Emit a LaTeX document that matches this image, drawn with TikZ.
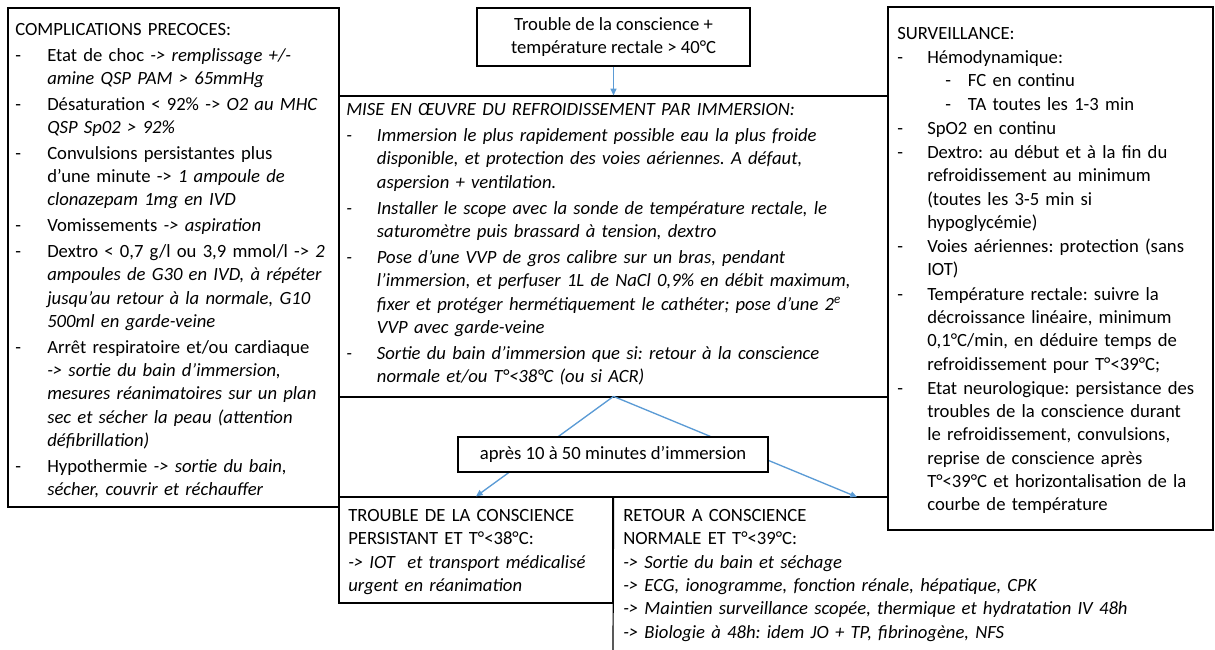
\documentclass[tikz,border=0pt]{standalone}
\usepackage{fontspec}
\setmainfont{Carlito}
\usepackage{tikz}
\usetikzlibrary{arrows.meta}

\definecolor{flowblue}{RGB}{91,155,213}

\newlength{\itmgap}
\newcommand{\itm}[2][24pt]{\par\vspace{\itmgap}\hangindent=#1\hangafter=1\noindent\makebox[#1][l]{-}#2}
\newcommand{\subitm}[1]{\par\noindent\hspace{36pt}\makebox[17pt][l]{-}#1}

\tikzset{
  box/.style={draw=black, line width=0.9pt, inner sep=0pt},
  txt/.style={anchor=north west, inner sep=0pt, align=left, font=\fontsize{14}{17.5}\selectfont\frenchspacing},
  flow/.style={draw=flowblue, line width=1pt},
  tip/.style={-{Triangle[length=5pt,width=4.5pt]}}
}

\begin{document}
\begin{tikzpicture}[x=0.75pt, y=-0.75pt]
    \useasboundingbox (0,0) rectangle (1215,650);

    \node[box, minimum width=248.25pt, minimum height=374.25pt] (compl) at (173.5,257.5) {};
    \node[box, minimum width=204.75pt, minimum height=43.5pt, align=center, font=\fontsize{14}{17.5}\selectfont] (trig) at (613.5,37) {Trouble de la conscience +\\température rectale > 40°C};
    \node[box, minimum width=411.75pt, minimum height=225.75pt] (immer) at (613.5,246.5) {};
    \node[box, minimum width=411.75pt, minimum height=75pt] (delai) at (613.5,447) {};
    \node[box, minimum width=205.5pt, minimum height=79.5pt] (persist) at (476,550) {};
    \node[box, minimum width=243.75pt, minimum height=392.25pt] (surv) at (1050.5,268.5) {};
    \coordinate (retour) at (857,497);
    \draw[black, line width=0.9pt] (persist.north east) -- (613,650);

    \node[txt, text width=242pt] (compltxt) at (15,23) {\setlength{\itmgap}{1.8pt}COMPLICATIONS PRECOCES:
        \itm{Etat de choc \textit{-> remplissage +/-}\newline\textit{amine QSP PAM > 65mmHg}}
        \itm{Désaturation < 92\% -> \textit{O2 au MHC}\newline\textit{QSP Sp02 > 92\%}}
        \itm{Convulsions persistantes plus\newline d’une minute -> \textit{1 ampoule de}\newline\textit{clonazepam 1mg en IVD}}
        \itm{Vomissements \textit{-> aspiration}}
        \itm{Dextro < 0,7 g/l ou 3,9 mmol/l -> \textit{2}\newline\textit{ampoules de G30 en IVD, à répéter}\newline\textit{jusqu’au retour à la normale, G10}\newline\textit{500ml en garde-veine}}
        \itm{Arrêt respiratoire et/ou cardiaque\newline\textit{-> sortie du bain d’immersion,}\newline\textit{mesures réanimatoires sur un plan}\newline\textit{sec et sécher la peau (attention}\newline\textit{défibrillation)}}
        \itm{Hypothermie \textit{-> sortie du bain,}\newline\textit{sécher, couvrir et réchauffer}}\par};

    \node[txt, text width=400pt, font=\fontsize{14}{17.5}\selectfont\itshape\frenchspacing] (immertxt) at (346,103) {\setlength{\itmgap}{2pt}MISE EN ŒUVRE DU REFROIDISSEMENT PAR IMMERSION:
        \itm[23pt]{Immersion le plus rapidement possible eau la plus froide\newline disponible, et protection des voies aériennes. A défaut,\newline aspersion + ventilation.}
        \itm[23pt]{Installer le scope avec la sonde de température rectale, le\newline saturomètre puis brassard à tension, dextro}
        \itm[23pt]{Pose d’une VVP de gros calibre sur un bras, pendant\newline l’immersion, et perfuser 1L de NaCl 0,9\% en débit maximum,\newline fixer et protéger hermétiquement le cathéter; pose d’une 2\textsuperscript{e}\newline VVP avec garde-veine}
        \itm[23pt]{Sortie du bain d’immersion que si: retour à la conscience\newline normale et/ou T°<38°C (ou si ACR)}\par};

    \node[txt, text width=236pt] (survtxt) at (897,27) {\setlength{\itmgap}{0.6pt}SURVEILLANCE:
        \itm[22.5pt]{Hémodynamique:}
        \subitm{FC en continu}
        \subitm{TA toutes les 1-3 min}
        \itm[22.5pt]{SpO2 en continu}
        \itm[22.5pt]{Dextro: au début et à la fin du\newline refroidissement au minimum\newline(toutes les 3-5 min si\newline hypoglycémie)}
        \itm[22.5pt]{Voies aériennes: protection (sans\newline IOT)}
        \itm[22.5pt]{Température rectale: suivre la\newline décroissance linéaire, minimum\newline 0,1°C/min, en déduire temps de\newline refroidissement pour T°<39°C;}
        \itm[22.5pt]{Etat neurologique: persistance des\newline troubles de la conscience durant\newline le refroidissement, convulsions,\newline reprise de conscience après\newline T°<39°C et horizontalisation de la\newline courbe de température}\par};

    \node[txt, text width=195pt] (persisttxt) at (348,509) {TROUBLE DE LA CONSCIENCE\\PERSISTANT ET T°<38°C:\\\textit{-> IOT~ et transport médicalisé}\\\textit{urgent en réanimation}};
    \node[txt, text width=420pt] (retourtxt) at (623,509) {RETOUR A CONSCIENCE\\NORMALE ET T°<39°C:\\\textit{-> Sortie du bain et séchage}\\\textit{-> ECG, ionogramme, fonction rénale, hépatique, CPK}\\\textit{-> Maintien surveillance scopée, thermique et hydratation IV 48h}\\\textit{-> Biologie à 48h: idem JO + TP, fibrinogène, NFS}};

    \draw[flow, tip] (trig) -- (immer.north);
    \draw[flow, tip] (delai.north) -- (persist.north);
    \draw[flow, tip] (delai.north) -- (retour);

    \node[box, fill=white, minimum width=232.5pt, minimum height=26.25pt, font=\fontsize{14}{17.5}\selectfont] (apres) at (613,454.5) {après 10 à 50 minutes d’immersion};
\end{tikzpicture}
\end{document}
